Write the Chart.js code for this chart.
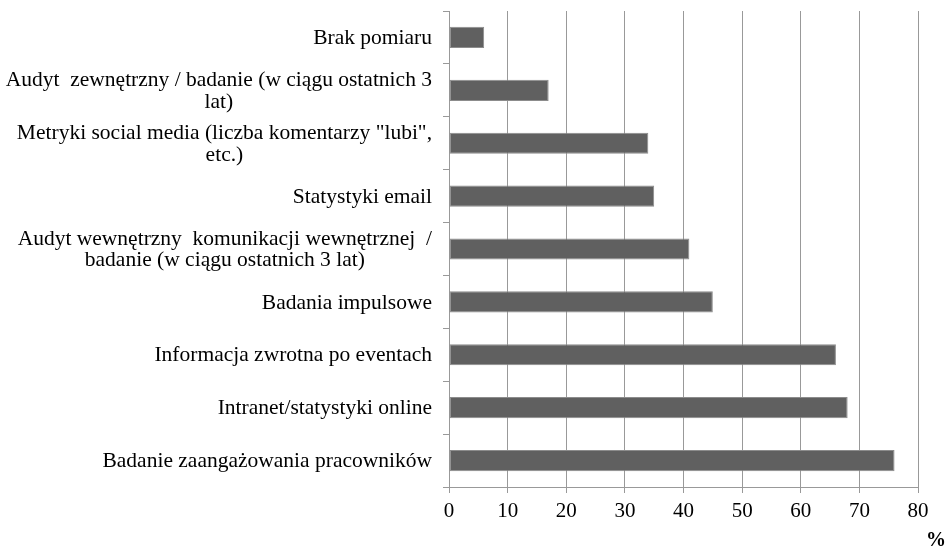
<!DOCTYPE html>
<html>
<head>
<meta charset="utf-8">
<script src="https://cdn.jsdelivr.net/npm/chart.js@4/dist/chart.umd.min.js"></script>
<style>
    html, body { margin: 0; padding: 0; background: #fff; }
    #wrap { position: relative; width: 949px; height: 549px; }
    #unit { position: absolute; left: 926px; top: 528px; font: bold 20px "Liberation Serif", serif; color: #000; }
</style>
</head>
<body>
<div id="wrap">
    <canvas id="chart" width="949" height="549"></canvas>
    <div id="unit">%</div>
</div>
<script>
// categories, top to bottom (wrapped as in the source)
const categories = [
    ['Brak pomiaru'],
    ['Audyt  zewnętrzny / badanie (w ciągu ostatnich 3', 'lat)'],
    ['Metryki social media (liczba komentarzy "lubi",', 'etc.)'],
    ['Statystyki email'],
    ['Audyt wewnętrzny  komunikacji wewnętrznej  /', 'badanie (w ciągu ostatnich 3 lat)'],
    ['Badania impulsowe'],
    ['Informacja zwrotna po eventach'],
    ['Intranet/statystyki online'],
    ['Badanie zaangażowania pracowników']
];
const values = [6, 17, 34, 35, 41, 45, 66, 68, 76];
const xTicks = [0, 10, 20, 30, 40, 50, 60, 70, 80];

const FONT = '"Liberation Serif", "Times New Roman", serif';
const GRID = '#999999';

// y labels: block right-aligned against the axis, lines centred inside the block
const yLabelPlugin = {
    id: 'yLabels',
    afterDraw(chart) {
        const ctx = chart.ctx;
        const y = chart.scales.y;
        const right = y.right - 17;
        const lh = 21.5;
        ctx.save();
        ctx.font = '21.5px ' + FONT;
        ctx.fillStyle = '#000';
        ctx.textBaseline = 'middle';
        ctx.textAlign = 'center';
        categories.forEach((lines, i) => {
            const cy = y.getPixelForValue(i) + 1;
            const w = Math.max(...lines.map(l => ctx.measureText(l).width));
            const cx = right - w / 2;
            const top = cy - (lines.length - 1) * lh / 2;
            lines.forEach((l, j) => ctx.fillText(l, cx, top + j * lh));
        });
        ctx.restore();
    }
};

new Chart(document.getElementById('chart').getContext('2d'), {
    type: 'bar',
    data: {
        labels: categories.map(c => c.join(' ')),
        datasets: [{
            data: values,
            backgroundColor: '#606060',
            borderColor: '#8c8c8c',
            borderWidth: 1,
            borderSkipped: false,
            barPercentage: 0.8,
            categoryPercentage: 0.5
        }]
    },
    options: {
        indexAxis: 'y',
        responsive: false,
        animation: false,
        layout: { padding: { top: 11, right: 31, left: 0, bottom: 0 } },
        plugins: { legend: { display: false }, tooltip: { enabled: false } },
        scales: {
            x: {
                min: 0,
                max: 80,
                afterBuildTicks: (scale) => { scale.ticks = xTicks.map(v => ({ value: v })); },
                afterFit: (scale) => { scale.height = 62; },
                grid: { color: GRID, lineWidth: 1, tickLength: 6 },
                border: { color: GRID, width: 1 },
                ticks: { color: '#000', font: { family: FONT, size: 21 }, padding: 6 }
            },
            y: {
                afterFit: (scale) => { scale.width = 449; },
                grid: { offset: true, drawOnChartArea: false, color: GRID, tickLength: 6 },
                border: { color: GRID, width: 1 },
                ticks: { display: false }
            }
        }
    },
    plugins: [yLabelPlugin]
});
</script>
</body>
</html>
